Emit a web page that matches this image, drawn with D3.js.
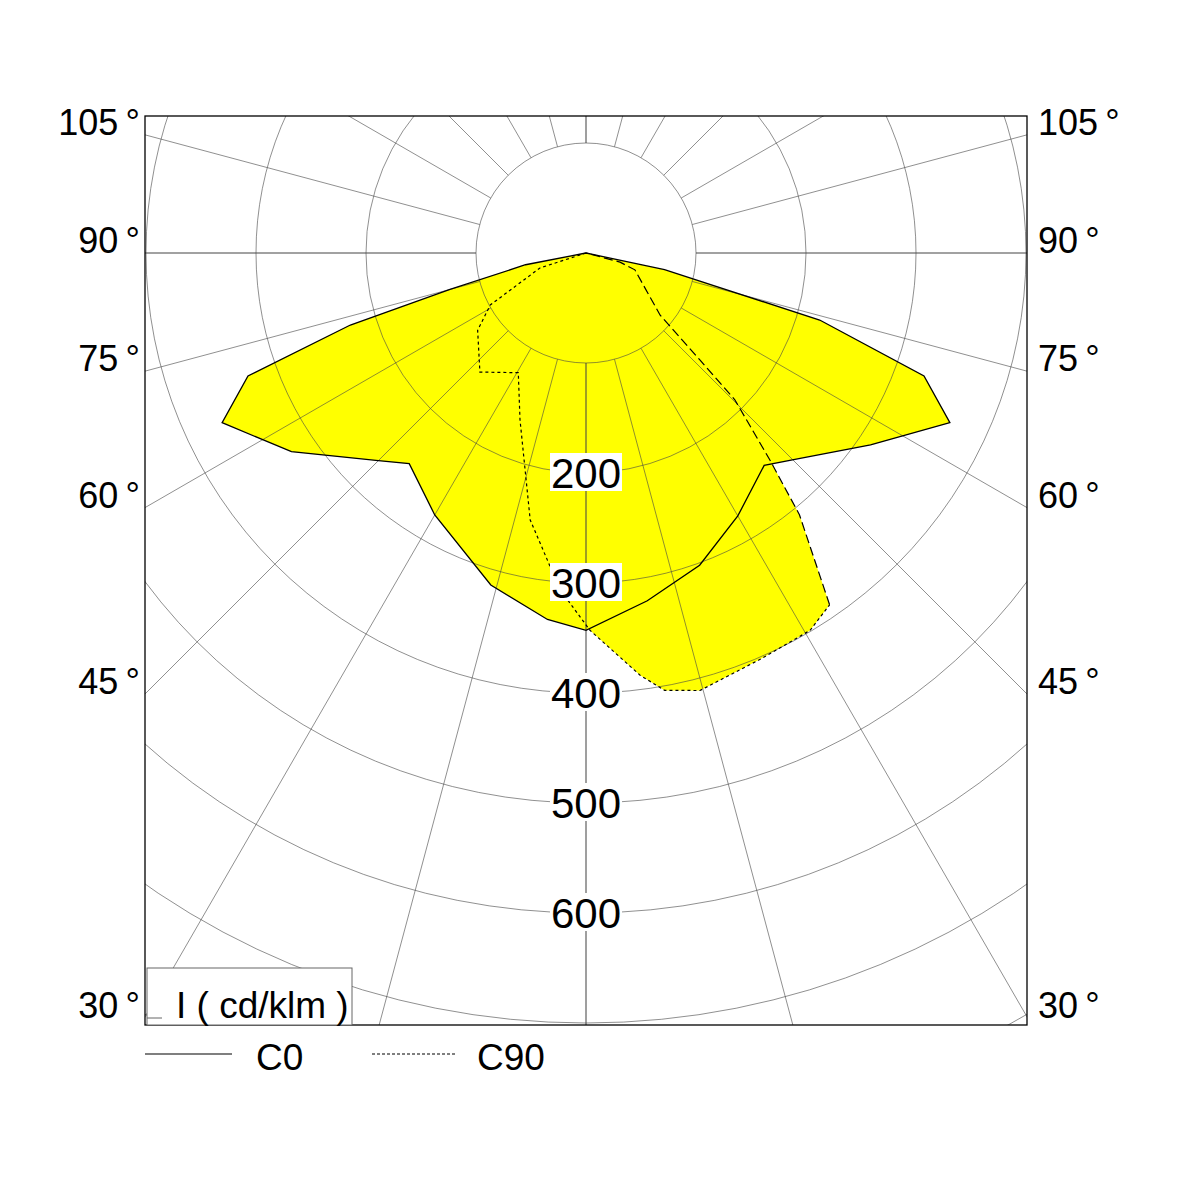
<!DOCTYPE html>
<html><head><meta charset="utf-8">
<script src="https://cdn.jsdelivr.net/npm/d3@7"></script>
<style>body{margin:0;background:#fff}text{font-family:"Liberation Sans Narrow","Liberation Sans",Arial,sans-serif}</style>
</head><body>
<svg id="chart" width="1181" height="1181"></svg>
<script>
// gamma angles (deg, negative = left half), intensity cd/klm
const c0Angles = [-180, -79, -75, -73, -70, -65, -56, -45, -40, -30, -16, -6, 0, 10, 20, 30, 40, 46, 56, 65, 70, 74, 78, 180];
const c0Values = [0, 56, 128, 224, 327, 365, 323, 267, 250, 275, 314, 335, 343, 321, 302, 276, 252, 269, 312, 365, 327, 221, 73, 0];
const c90LeftAngles = [-180, -72, -61.5, -54.5, -41.7, -29.5, -21.6, -11.8, -4.4, 0.6, 7.3, 10.2, 14.6, 23, 30.7, 34.7];
const c90LeftValues = [0, 44, 99, 121, 145, 125, 163, 248, 307, 343, 387, 404, 411, 402, 399, 389];
const c90RightAngles = [34.7, 39.2, 41.6, 45.4, 46.8, 50, 71, 75, 180];
const c90RightValues = [389, 307, 252, 190, 142, 88, 47, 32, 0];
const ringValues = [100, 200, 300, 400, 500, 600, 700, 800];
const ringLabels = [200, 300, 400, 500, 600];
const spokeAngles = d3.range(0, 181, 15);
const sideLabels = [105, 90, 75, 60, 45, 30];

const svg = d3.select("#chart");
const L = 145, R = 1027, T = 116, B = 1025, cx = 586, cy = 253;
const r = d3.scaleLinear().domain([0, 100]).range([0, 110]);
const rad = g => (180 - g) * Math.PI / 180;

svg.append("defs").append("clipPath").attr("id", "clip")
  .append("rect").attr("x", L).attr("y", T).attr("width", R - L).attr("height", B - T);

const g = svg.append("g").attr("clip-path", "url(#clip)")
  .append("g").attr("transform", `translate(${cx},${cy})`);

const line = d3.lineRadial().angle(d => rad(d[0])).radius(d => r(d[1]));
const zip = (a, b) => a.map((x, i) => [x, b[i]]);
const c0 = zip(c0Angles, c0Values);
const c90 = zip(c90LeftAngles, c90LeftValues).concat(zip(c90RightAngles, c90RightValues).slice(1));

g.append("path").attr("d", line(c0) + "Z").attr("fill", "#ffff00");
g.append("path").attr("d", line(c90) + "Z").attr("fill", "#ffff00");

// grid
g.selectAll(".ring").data(ringValues).join("circle")
  .attr("r", d => r(d)).attr("fill", "none").attr("stroke", "#444").attr("stroke-width", 0.6);
const rMax = r(900);
[...spokeAngles, ...spokeAngles.map(a => -a)].forEach(a => {
  const t = rad(a);
  g.append("line")
    .attr("x1", r(100) * Math.sin(t)).attr("y1", -r(100) * Math.cos(t))
    .attr("x2", rMax * Math.sin(t)).attr("y2", -rMax * Math.cos(t))
    .attr("stroke", "#444").attr("stroke-width", a === 90 || a === -90 ? 1.2 : 0.6);
});

// curves
g.append("path").attr("d", line(c0) + "Z").attr("fill", "none").attr("stroke", "#000").attr("stroke-width", 1.3);
g.append("path").attr("d", line(zip(c90LeftAngles, c90LeftValues))).attr("fill", "none")
  .attr("stroke", "#000").attr("stroke-width", 1.2).attr("stroke-dasharray", "3,3");
g.append("path").attr("d", line(zip(c90RightAngles, c90RightValues))).attr("fill", "none")
  .attr("stroke", "#000").attr("stroke-width", 1.2).attr("stroke-dasharray", "9,4");

// ring labels
ringLabels.forEach(v => {
  const y = cy + r(v);
  svg.append("rect").attr("x", cx - 36).attr("y", y - 20).attr("width", 72).attr("height", 38).attr("fill", "#fff");
  svg.append("text").attr("x", cx).attr("y", y + 15).attr("text-anchor", "middle")
    .attr("font-size", 42).text(v);
});

svg.append("rect").attr("x", L).attr("y", T).attr("width", R - L).attr("height", B - T)
  .attr("fill", "none").attr("stroke", "#000").attr("stroke-width", 1.3);

// side labels
sideLabels.forEach(a => {
  const y = cy + (cx - L) / Math.tan(a * Math.PI / 180);
  const ly = a === 30 ? 1005 : y - 13;
  svg.append("text").attr("x", 140).attr("y", ly + 13).attr("text-anchor", "end").attr("font-size", 36).text(a + "\u2009°");
  svg.append("text").attr("x", 1038).attr("y", ly + 13).attr("font-size", 36).text(a + "\u2009°");
});

// unit box
svg.append("rect").attr("x", 147).attr("y", 968).attr("width", 205).attr("height", 57)
  .attr("fill", "#fff").attr("stroke", "#666").attr("stroke-width", 1);
svg.append("line").attr("x1", 147).attr("x2", 162).attr("y1", 1018).attr("y2", 1018).attr("stroke", "#666");
svg.append("text").attr("x", 176).attr("y", 1018).attr("font-size", 37).text("I ( cd/klm )");

// legend
svg.append("line").attr("x1", 145).attr("x2", 232).attr("y1", 1054).attr("y2", 1054).attr("stroke", "#000").attr("stroke-width", 1.2);
svg.append("text").attr("x", 256).attr("y", 1070).attr("font-size", 37).text("C0");
svg.append("line").attr("x1", 372).attr("x2", 455).attr("y1", 1054).attr("y2", 1054).attr("stroke", "#000").attr("stroke-width", 1.2).attr("stroke-dasharray", "3,2");
svg.append("text").attr("x", 477).attr("y", 1070).attr("font-size", 37).text("C90");
</script>
</body></html>
